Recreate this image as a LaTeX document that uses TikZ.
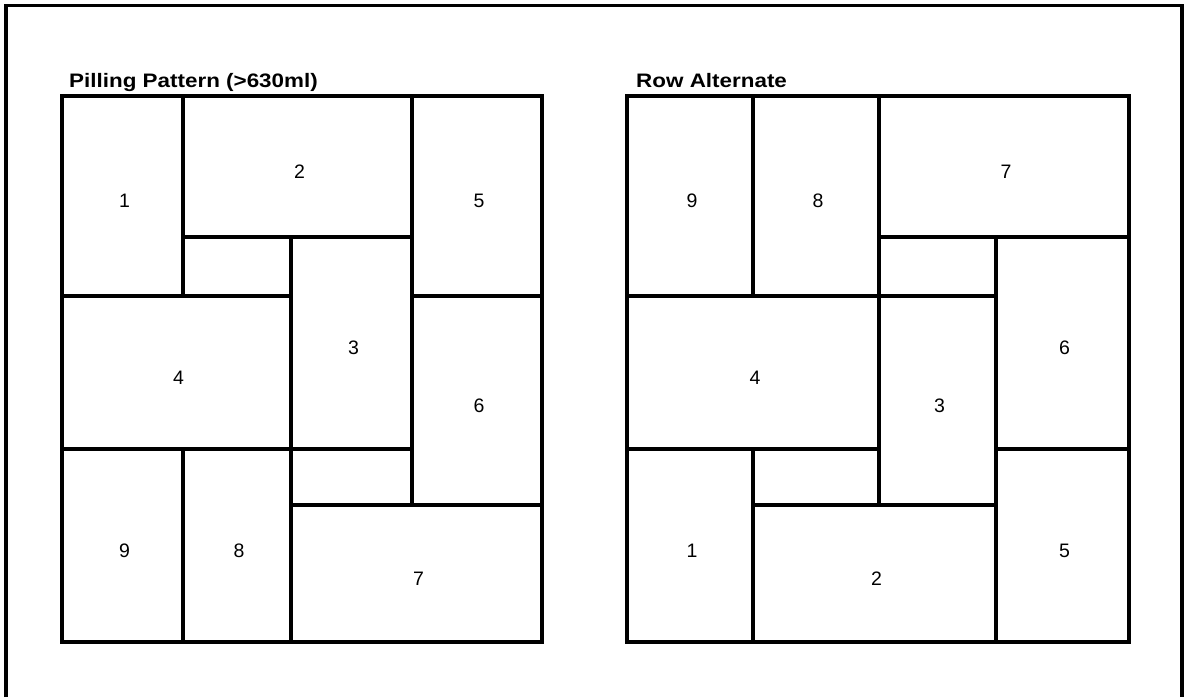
\documentclass[tikz,border=0pt]{standalone}
\usepackage{fontspec}
\setmainfont{Liberation Sans}
\usetikzlibrary{fit}
\begin{document}
\begin{tikzpicture}[x=1pt,y=-1pt,
  cell/.style={draw=black, line width=3.3pt, inner sep=0pt, line join=miter, fit={#1}},
  num/.style={label={[inner sep=0pt, xshift=2pt, yshift=-5pt,
               font=\fontsize{19.5}{20}\selectfont]center:#1}},
  paneltitle/.style={anchor=base west, inner sep=0pt,
               font=\fontsize{19.5}{20}\selectfont\bfseries},
  frameline/.style={draw=black, line width=3.8pt}]
\useasboundingbox (0,0) rectangle (1184,697);
% outer frame (open at the bottom)
\coordinate (fa) at (6,697);
\coordinate (fb) at (6,5.5);
\coordinate (fc) at (1182,5.5);
\coordinate (fd) at (1182,697);
\draw[frameline] (fa) -- (fb) -- (fc) -- (fd);

% titles
\node[paneltitle] (tL) at (69,87) {\scalebox{1.15}[1]{Pilling Pattern (>630ml)}};
\node[paneltitle] (tR) at (636,87) {\scalebox{1.15}[1]{Row Alternate}};

% left panel
\node[cell={(62,96)(183,296)}, num=1]   (L1) {};
\node[cell={(183,96)(412,237)}, num=2]  (L2) {};
\node[cell={(412,96)(542,296)}, num=5]  (L5) {};
\node[cell={(183,237)(291,296)}]        (La) {};
\node[cell={(291,237)(412,449)}, num=3] (L3) {};
\node[cell={(62,296)(291,449)}, num=4]  (L4) {};
\node[cell={(412,296)(542,505)}, num=6] (L6) {};
\node[cell={(291,449)(412,505)}]        (Lb) {};
\node[cell={(62,449)(183,642)}, num=9]  (L9) {};
\node[cell={(183,449)(291,642)}, num=8] (L8) {};
\node[cell={(291,505)(542,642)}, num=7] (L7) {};

% right panel
\node[cell={(627,96)(753,296)}, num=9]   (R9) {};
\node[cell={(753,96)(879,296)}, num=8]   (R8) {};
\node[cell={(879,96)(1129,237)}, num=7]  (R7) {};
\node[cell={(879,237)(996,296)}]         (Rc) {};
\node[cell={(996,237)(1129,449)}, num=6] (R6) {};
\node[cell={(627,296)(879,449)}, num=4]  (R4) {};
\node[cell={(879,296)(996,505)}, num=3]  (R3) {};
\node[cell={(627,449)(753,642)}, num=1]  (R1) {};
\node[cell={(753,449)(879,505)}]         (Rd) {};
\node[cell={(753,505)(996,642)}, num=2]  (R2) {};
\node[cell={(996,449)(1129,642)}, num=5] (R5) {};
\end{tikzpicture}
\end{document}
